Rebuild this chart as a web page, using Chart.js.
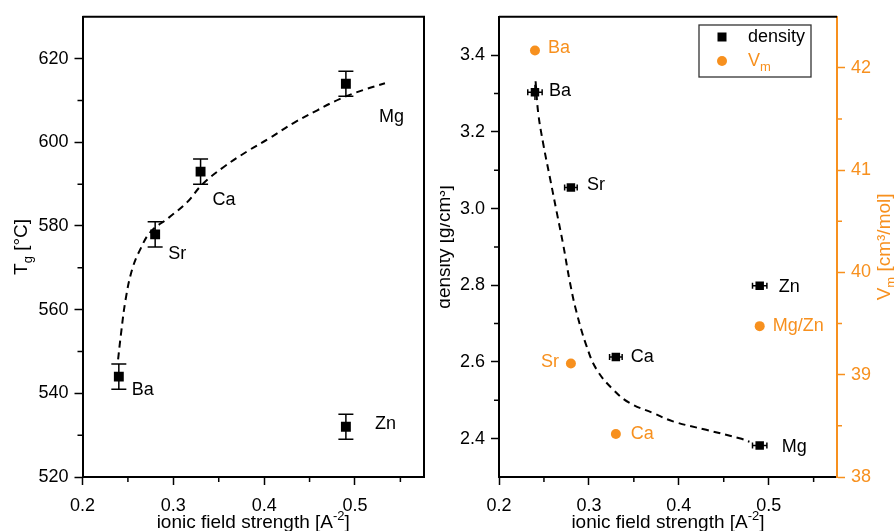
<!DOCTYPE html>
<html>
<head>
<meta charset="utf-8">
<script src="https://cdn.jsdelivr.net/npm/chart.js@4.4.1/dist/chart.umd.min.js"></script>
<style>
  body { margin: 0; background: #fff; }
  #wrap { position: relative; width: 894px; height: 531px; overflow: hidden; }
  canvas { position: absolute; top: 0; }
  #tgChart { left: 0; }
  #densChart { left: 440px; }
</style>
</head>
<body>
<div id="wrap">
  <canvas id="tgChart" width="440" height="531"></canvas>
  <canvas id="densChart" width="454" height="531"></canvas>
</div>
<script>
const ORANGE = '#f7901e';
const FONT = "'Liberation Sans', Arial, sans-serif";

// cation order: Ba, Sr, Ca, Mg, Zn
const cations = ['Ba', 'Sr', 'Ca', 'Mg', 'Zn'];
const fieldStrength = [0.24, 0.28, 0.33, 0.49, 0.49];
const tg = [544, 578, 593, 614, 532];
const tgErr = [3, 3, 3, 3, 3];
const density = [3.303, 3.055, 2.613, 2.382, 2.799];
const densityErrX = [0.008, 0.007, 0.007, 0.008, 0.008];
const densityErrY = [0.02, 0, 0, 0, 0];

// molar volume (Mg and Zn coincide)
const vmLabels = ['Ba', 'Sr', 'Ca', 'Mg/Zn'];
const vmX = [0.24, 0.28, 0.33, 0.49];
const vm = [42.17, 39.11, 38.42, 39.475];

// dashed guide curves
const tgFitX = [0.2392, 0.2421, 0.2476, 0.2549, 0.264, 0.275, 0.2951, 0.3153, 0.3317, 0.3555, 0.3811, 0.4067, 0.4323, 0.458, 0.4836, 0.5092, 0.533];
const tgFitY = [548.1, 553.7, 562.6, 569.8, 574.6, 578.6, 582.0, 585.7, 589.9, 594.1, 597.8, 601.1, 604.6, 607.6, 610.4, 612.5, 614.1];
const denFitX = [0.2407, 0.2437, 0.2492, 0.2566, 0.264, 0.2714, 0.2788, 0.2862, 0.2973, 0.3084, 0.3269, 0.3454, 0.3713, 0.3935, 0.4305, 0.4675, 0.4786];
const denFitY = [3.332, 3.248, 3.169, 3.081, 2.993, 2.906, 2.809, 2.730, 2.642, 2.581, 2.528, 2.493, 2.467, 2.445, 2.423, 2.401, 2.392];

// axis ticks
const xTicks = [0.2, 0.3, 0.4, 0.5];
const xMinor = [0.25, 0.35, 0.45, 0.55];
const tgTicks = [520, 540, 560, 580, 600, 620];
const tgMinor = [530, 550, 570, 590, 610];
const densTicks = [2.4, 2.6, 2.8, 3.0, 3.2, 3.4];
const densMinor = [2.5, 2.7, 2.9, 3.1, 3.3];
const vmTicks = [38, 39, 40, 41, 42];
const vmMinor = [38.5, 39.5, 40.5, 41.5];

const pts = (xs, ys) => xs.map((x, i) => ({ x: x, y: ys[i] }));

function linAxis(min, max, ticks, color, size, extra) {
  return Object.assign({
    type: 'linear',
    min: min,
    max: max,
    afterBuildTicks: s => { s.ticks = ticks.map(v => ({ value: v })); },
    border: { color: color, width: 2 },
    grid: { drawOnChartArea: false, drawTicks: true, tickLength: 8, tickColor: color, tickWidth: 1.5 },
    ticks: { color: color, font: { family: FONT, size: size }, padding: 6, maxRotation: 0 }
  }, extra);
}

// x axis: labels sit a little lower than the y ones
function xAxis() {
  const ax = linAxis(0.2, 0.576, xTicks, '#000', 18, {
    afterFit: s => { s.height = 54; }
  });
  ax.ticks.padding = 10;
  return ax;
}

// text with sub/superscripts, optionally rotated
function richText(ctx, parts, x, y, rotate, color) {
  ctx.save();
  ctx.fillStyle = color;
  ctx.textBaseline = 'alphabetic';
  ctx.textAlign = 'left';
  let total = 0;
  parts.forEach(p => {
    ctx.font = p.size + 'px ' + FONT;
    p.w = ctx.measureText(p.t).width;
    total += p.w;
  });
  ctx.translate(x, y);
  if (rotate) ctx.rotate(-Math.PI / 2);
  let cx = -total / 2;
  parts.forEach(p => {
    ctx.font = p.size + 'px ' + FONT;
    ctx.fillText(p.t, cx, p.dy || 0);
    cx += p.w;
  });
  ctx.restore();
}

function minorTicks(ctx, scale, values, side, len, color) {
  ctx.save();
  ctx.strokeStyle = color;
  ctx.lineWidth = 1.5;
  ctx.beginPath();
  values.forEach(v => {
    const p = scale.getPixelForValue(v);
    if (side === 'bottom') { ctx.moveTo(p, scale.top); ctx.lineTo(p, scale.top + len); }
    if (side === 'left') { ctx.moveTo(scale.right, p); ctx.lineTo(scale.right - len, p); }
    if (side === 'right') { ctx.moveTo(scale.left, p); ctx.lineTo(scale.left + len, p); }
  });
  ctx.stroke();
  ctx.restore();
}

// error bars and point labels, read from extra dataset fields
const markPlugin = {
  id: 'marks',
  beforeDatasetsDraw(chart) {
    const ctx = chart.ctx;
    chart.data.datasets.forEach((ds, i) => {
      if (!ds.errY && !ds.errX) return;
      const meta = chart.getDatasetMeta(i);
      ctx.save();
      ctx.strokeStyle = '#000';
      ctx.lineWidth = 1.5;
      ctx.beginPath();
      ds.data.forEach((d, j) => {
        const px = meta.xScale.getPixelForValue(d.x);
        const py = meta.yScale.getPixelForValue(d.y);
        if (ds.errY && ds.errY[j]) {
          const t = meta.yScale.getPixelForValue(d.y + ds.errY[j]);
          const b = meta.yScale.getPixelForValue(d.y - ds.errY[j]);
          ctx.moveTo(px, t); ctx.lineTo(px, b);
          if (ds.capY) {
            ctx.moveTo(px - ds.capY, t); ctx.lineTo(px + ds.capY, t);
            ctx.moveTo(px - ds.capY, b); ctx.lineTo(px + ds.capY, b);
          }
        }
        if (ds.errX && ds.errX[j]) {
          const l = meta.xScale.getPixelForValue(d.x - ds.errX[j]);
          const r = meta.xScale.getPixelForValue(d.x + ds.errX[j]);
          ctx.moveTo(l, py); ctx.lineTo(r, py);
          ctx.moveTo(l, py - 3); ctx.lineTo(l, py + 3);
          ctx.moveTo(r, py - 3); ctx.lineTo(r, py + 3);
        }
      });
      ctx.stroke();
      ctx.restore();
    });
  },
  afterDatasetsDraw(chart) {
    const ctx = chart.ctx;
    chart.data.datasets.forEach((ds, i) => {
      if (!ds.names) return;
      const meta = chart.getDatasetMeta(i);
      ctx.save();
      ctx.font = '18px ' + FONT;
      ctx.fillStyle = ds.nameColor;
      ctx.textBaseline = 'middle';
      meta.data.forEach((el, j) => {
        const off = ds.nameOffsets[j];
        ctx.textAlign = off[0] < 0 ? 'right' : 'left';
        ctx.fillText(ds.names[j], el.x + off[0], el.y + off[1]);
      });
      ctx.restore();
    });
  }
};

const baseOptions = {
  responsive: false,
  animation: false,
  events: [],
  devicePixelRatio: 1,
  plugins: { legend: { display: false }, tooltip: { enabled: false } }
};

// ---- Tg vs ionic field strength ----
new Chart(document.getElementById('tgChart'), {
  type: 'scatter',
  data: {
    datasets: [
      {
        data: pts(fieldStrength, tg),
        pointStyle: 'rect', pointRadius: 7, backgroundColor: '#000', borderWidth: 0,
        errY: tgErr, capY: 7.5,
        names: cations, nameColor: '#000',
        nameOffsets: [[13, 13], [13, 20], [12, 28], [33, 33], [29, -3]],
        order: 1
      },
      {
        data: pts(tgFitX, tgFitY),
        showLine: true, pointRadius: 0, borderColor: '#000', borderWidth: 2,
        borderDash: [7, 5], tension: 0.4, fill: false,
        order: 2
      }
    ]
  },
  options: Object.assign({}, baseOptions, {
    layout: { padding: { top: 13, right: 16, left: 0, bottom: 0 } },
    scales: {
      x: xAxis(),
      y: linAxis(520, 630, tgTicks, '#000', 18, {
        afterFit: s => { s.width = 82.5; }
      })
    }
  }),
  plugins: [markPlugin, {
    id: 'tgDecor',
    afterDraw(chart) {
      const ctx = chart.ctx, a = chart.chartArea;
      ctx.save();
      ctx.strokeStyle = '#000';
      ctx.lineWidth = 2;
      ctx.beginPath();
      ctx.moveTo(a.left, a.top); ctx.lineTo(a.right, a.top); ctx.lineTo(a.right, a.bottom);
      ctx.stroke();
      ctx.restore();
      minorTicks(ctx, chart.scales.x, xMinor, 'bottom', 5, '#000');
      minorTicks(ctx, chart.scales.y, tgMinor, 'left', 5, '#000');
      richText(ctx, [{ t: 'T', size: 19 }, { t: 'g', size: 13, dy: 5 }, { t: ' [°C]', size: 19 }],
        27, (a.top + a.bottom) / 2, true, '#000');
      richText(ctx, [{ t: 'ionic field strength [A', size: 19 }, { t: '-2', size: 13, dy: -8 }, { t: ']', size: 19 }],
        (a.left + a.right) / 2, 528, false, '#000');
    }
  }]
});

// ---- density and molar volume vs ionic field strength ----
new Chart(document.getElementById('densChart'), {
  type: 'scatter',
  data: {
    datasets: [
      {
        label: 'density',
        data: pts(fieldStrength, density),
        yAxisID: 'y',
        pointStyle: 'rect', pointRadius: 6, backgroundColor: '#000', borderWidth: 0,
        errX: densityErrX, errY: densityErrY,
        names: cations, nameColor: '#000',
        nameOffsets: [[14, -1], [16, -2], [15, 0], [22, 1], [19, 1]],
        order: 1
      },
      {
        label: 'Vm',
        data: pts(vmX, vm),
        yAxisID: 'y2',
        pointStyle: 'circle', pointRadius: 5, backgroundColor: ORANGE, borderWidth: 0,
        names: vmLabels, nameColor: ORANGE,
        nameOffsets: [[13, -3], [-12, -1], [15, 0], [13, 0]],
        order: 1
      },
      {
        data: pts(denFitX, denFitY),
        yAxisID: 'y',
        showLine: true, pointRadius: 0, borderColor: '#000', borderWidth: 2,
        borderDash: [7, 5], tension: 0.4, fill: false,
        order: 2
      }
    ]
  },
  options: Object.assign({}, baseOptions, {
    layout: { padding: { top: 13, right: 0, left: 0, bottom: 0 } },
    scales: {
      x: xAxis(),
      y: linAxis(2.3, 3.5, densTicks, '#000', 18, {
        position: 'left',
        afterFit: s => { s.width = 59; }
      }),
      y2: linAxis(38, 42.5, vmTicks, ORANGE, 18, {
        position: 'right',
        afterFit: s => { s.width = 57; }
      })
    }
  }),
  plugins: [markPlugin, {
    id: 'densDecor',
    afterDraw(chart) {
      const ctx = chart.ctx, a = chart.chartArea;
      ctx.save();
      ctx.strokeStyle = '#000';
      ctx.lineWidth = 2;
      ctx.beginPath();
      ctx.moveTo(a.left, a.top); ctx.lineTo(a.right, a.top);
      ctx.stroke();
      ctx.restore();
      minorTicks(ctx, chart.scales.x, xMinor, 'bottom', 5, '#000');
      minorTicks(ctx, chart.scales.y, densMinor, 'left', 5, '#000');
      minorTicks(ctx, chart.scales.y2, vmMinor, 'right', 5, ORANGE);

      const mid = (a.top + a.bottom) / 2;
      richText(ctx, [{ t: 'density [g/cm³]', size: 19 }], 10, mid, true, '#000');
      richText(ctx, [{ t: 'V', size: 19 }, { t: 'm', size: 13, dy: 5 }, { t: ' [cm³/mol]', size: 19 }],
        450, mid, true, ORANGE);
      richText(ctx, [{ t: 'ionic field strength [A', size: 19 }, { t: '-2', size: 13, dy: -8 }, { t: ']', size: 19 }],
        (a.left + a.right) / 2, 528, false, '#000');

      // legend box
      ctx.save();
      ctx.strokeStyle = '#333';
      ctx.lineWidth = 1.3;
      ctx.strokeRect(259, 25, 112, 52);
      ctx.fillStyle = '#000';
      ctx.fillRect(282 - 4.5, 37 - 4.5, 9, 9);
      ctx.fillStyle = ORANGE;
      ctx.beginPath();
      ctx.arc(282, 61, 5, 0, Math.PI * 2);
      ctx.fill();
      ctx.font = '18px ' + FONT;
      ctx.textBaseline = 'middle';
      ctx.fillStyle = '#000';
      ctx.fillText(chart.data.datasets[0].label, 308, 37);
      ctx.fillStyle = ORANGE;
      ctx.fillText('V', 308, 61);
      const vw = ctx.measureText('V').width;
      ctx.font = '13px ' + FONT;
      ctx.fillText('m', 308 + vw, 67);
      ctx.restore();
    }
  }]
});
</script>
</body>
</html>
